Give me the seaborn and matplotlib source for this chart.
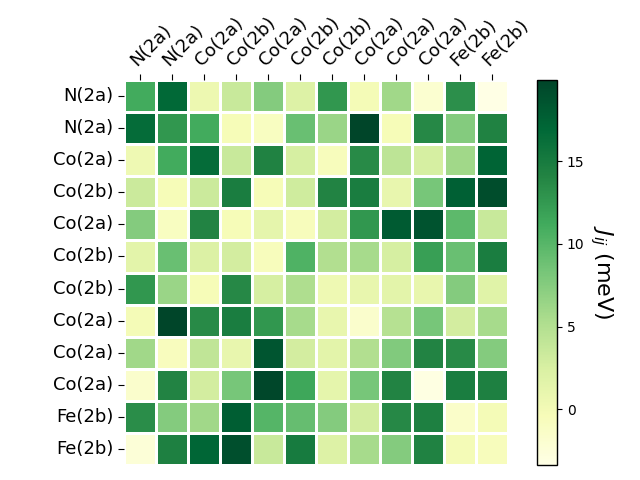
import matplotlib
matplotlib.use("Agg")
import matplotlib.pyplot as plt
import seaborn as sns
import numpy as np
import pandas as pd

labels = ["N(2a)", "N(2a)", "Co(2a)", "Co(2b)", "Co(2a)", "Co(2b)",
          "Co(2b)", "Co(2a)", "Co(2a)", "Co(2a)", "Fe(2b)", "Fe(2b)"]

row0 = [11.1, 16.9, 0.6, 3.6, 7.6, 2.0, 12.7, -0.1, 6.0, -2.0, 13.2, -3.37]
row1 = [16.6, 12.7, 11.1, -0.3, -1.0, 9.0, 6.4, 19.9, -0.3, 13.8, 7.6, 14.3]
row2 = [0.4, 11.1, 16.6, 3.6, 14.3, 2.7, -0.6, 13.6, 4.3, 2.7, 6.0, 17.3]
row3 = [3.4, -0.3, 3.4, 14.8, -0.3, 3.1, 14.1, 14.8, 1.0, 8.3, 17.6, 19.2]
row4 = [7.6, -1.0, 14.1, -0.3, 1.3, -0.6, 2.9, 12.7, 18.0, 18.7, 9.7, 3.6]
row5 = [1.5, 9.0, 2.2, 2.9, -0.6, 10.4, 5.0, 5.7, 2.7, 12.0, 9.0, 14.8]
row6 = [12.7, 6.4, -0.3, 13.8, 2.7, 5.2, 0.4, 1.0, 1.5, 1.0, 7.6, 1.8]
row7 = [-0.1, 19.9, 13.6, 14.8, 12.7, 5.7, 1.0, -1.7, 4.8, 8.3, 2.9, 5.7]
row8 = [6.0, -0.8, 4.1, 1.0, 18.5, 2.9, 1.5, 5.0, 7.8, 14.1, 13.6, 7.6]
row9 = [-1.7, 14.1, 2.9, 8.3, 19.7, 11.5, 1.3, 8.3, 14.1, -3.1, 14.8, 14.5]
row10 = [13.4, 7.6, 6.0, 17.8, 10.1, 9.2, 7.6, 2.9, 13.8, 14.5, -1.5, -0.1]
row11 = [-2.4, 14.5, 17.1, 19.0, 3.6, 15.0, 2.0, 5.7, 7.6, 14.3, -0.1, -0.6]

data = np.array([row0, row1, row2, row3, row4, row5, row6, row7,
                 row8, row9, row10, row11])
df = pd.DataFrame(data, index=labels, columns=labels)

fig = plt.figure(figsize=(6.4, 4.8), dpi=100)
ax = fig.add_axes([124/640, 15/480, 384/640, 385/480])
cax = fig.add_axes([537/640, 15/480, 20/640, 385/480])

sns.heatmap(df, ax=ax, cbar_ax=cax, cmap="YlGn", linewidths=2,
            linecolor="white", square=False)

ax.xaxis.tick_top()
ax.set_xticks(np.arange(len(labels)) + 0.5)
ax.set_xticklabels(labels, rotation=45, fontsize=13, ha="left",
                   va="bottom", rotation_mode="anchor")
ax.set_yticklabels(labels, rotation=0, fontsize=13)
ax.tick_params(axis="both", length=4)
for s in ax.spines.values():
    s.set_visible(False)

cbar = ax.collections[0].colorbar
cbar.set_ticks([0, 5, 10, 15])
cbar.ax.tick_params(labelsize=10)
cbar.outline.set_visible(True)
cbar.outline.set_edgecolor("black")
cbar.outline.set_linewidth(1)
cbar.set_label("$J_{ij}$ (meV)", rotation=270, fontsize=16, labelpad=22)

fig.savefig("out.png", dpi=100)
